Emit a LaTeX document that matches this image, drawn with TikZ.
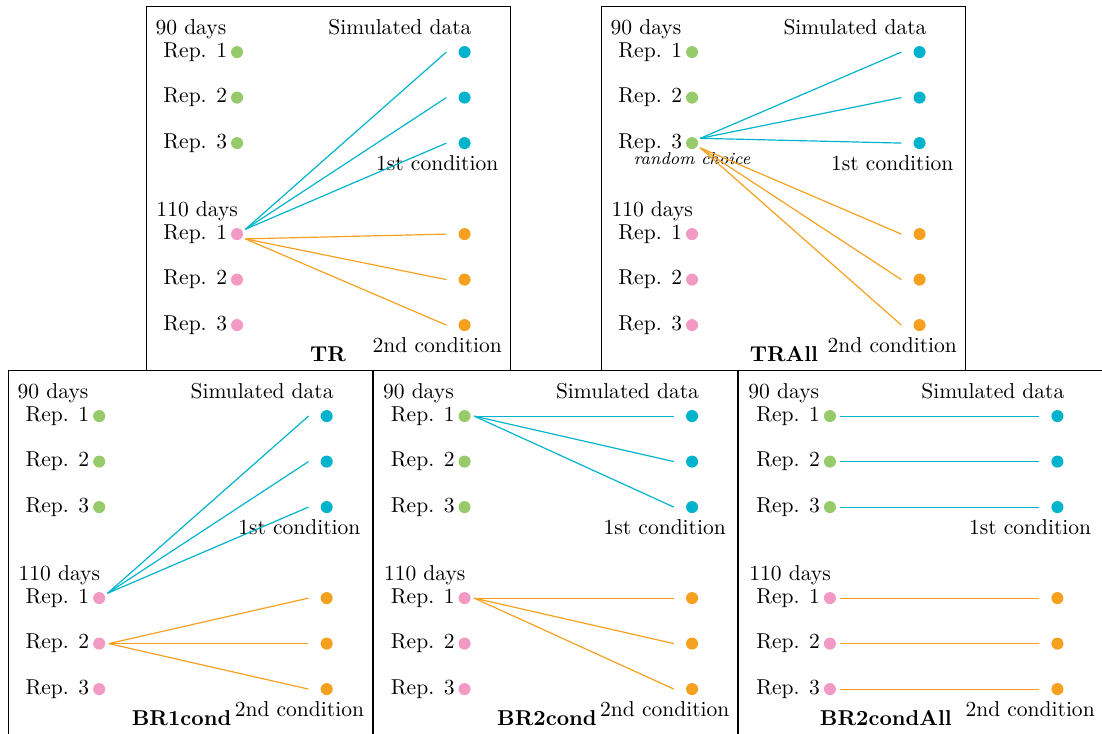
\documentclass[tikz,border=0pt]{standalone}
\definecolor{repgreen}{HTML}{96CA6A}
\definecolor{reppink}{HTML}{F39AC4}
\definecolor{simcyan}{HTML}{00B3CD}
\definecolor{simorange}{HTML}{F6A01F}

% box, texts and dots shared by every panel: #1 title, #2 x of the title
\newcommand\simpanel[2]{%
  \draw (0,0) rectangle (8,8);
  \node[note,anchor=base west] (d90)   at (0.2 ,7.39) {90 days};
  \node[note,anchor=base east] (sim)   at (7.16,7.39) {Simulated data};
  \node[note,anchor=base     ] (cond1) at (6.4 ,4.4 ) {1st condition};
  \node[note,anchor=base west] (d110)  at (0.22,3.39) {110 days};
  \node[note,anchor=base     ] (cond2) at (6.4 ,0.39) {2nd condition};
  \node[note,anchor=base,font=\bfseries] (title) at (#2,0.2) {#1};
  \foreach \i/\y in {1/7,2/6,3/5}{%
    \node[green dot,label={[rep]left:Rep. \i}] (g\i) at (2,\y) {};
    \node[cyan dot  ] (c\i) at (7,\y) {};
    \coordinate (c\i in) at (6.6,\y);
  }
  \foreach \i/\y in {1/3,2/2,3/1}{%
    \node[pink dot,label={[rep]left:Rep. \i}] (p\i) at (2,\y) {};
    \node[orange dot] (o\i) at (7,\y) {};
    \coordinate (o\i in) at (6.6,\y);
  }
}

\begin{document}
\begin{tikzpicture}[x=0.743cm,y=0.743cm,
    dot/.style={circle, inner sep=0pt, minimum size=5.6pt, outer sep=1.65pt, label distance=0pt},
    green dot/.style={dot, fill=repgreen},
    pink dot/.style={dot, fill=reppink},
    cyan dot/.style={dot, fill=simcyan},
    orange dot/.style={dot, fill=simorange},
    rep/.style={inner sep=0pt},
    note/.style={inner sep=0pt},
    cyan line/.style={draw=simcyan, line width=0.55pt},
    orange line/.style={draw=simorange, line width=0.55pt}]
  \useasboundingbox (0,0.035) rectangle (24.22,16.145);

  \begin{scope}[shift={(3.21,8)}]
    \simpanel{TR}{4}
    \foreach \i in {1,2,3} \draw[cyan line  ] (p1.30)  -- (c\i in);
    \foreach \i in {1,2,3} \draw[orange line] (p1.-30) -- (o\i in);
  \end{scope}

  \begin{scope}[shift={(13.21,8)}]
    \simpanel{TRAll}{4.02}
    \node[note,anchor=base,font=\footnotesize\itshape] (choice) at (2,4.53) {random choice};
    \foreach \i in {1,2,3} \draw[cyan line  ] (g3.30)  -- (c\i in);
    \foreach \i in {1,2,3} \draw[orange line] (g3.-30) -- (o\i in);
  \end{scope}

  \begin{scope}[shift={(0.18,0)}]
    \simpanel{BR1cond}{3.81}
    \foreach \i in {1,2,3} \draw[cyan line  ] (p1.30)   -- (c\i in);
    \foreach \i in {1,2,3} \draw[orange line] (p2.east) -- (o\i in);
  \end{scope}

  \begin{scope}[shift={(8.21,0)}]
    \simpanel{BR2cond}{3.81}
    \foreach \i in {1,2,3} \draw[cyan line  ] (g1.east) -- (c\i in);
    \foreach \i in {1,2,3} \draw[orange line] (p1.east) -- (o\i in);
  \end{scope}

  \begin{scope}[shift={(16.24,0)}]
    \simpanel{BR2condAll}{3.23}
    \foreach \i in {1,2,3} \draw[cyan line  ] (g\i.east) -- (c\i in);
    \foreach \i in {1,2,3} \draw[orange line] (p\i.east) -- (o\i in);
  \end{scope}
\end{tikzpicture}
\end{document}
